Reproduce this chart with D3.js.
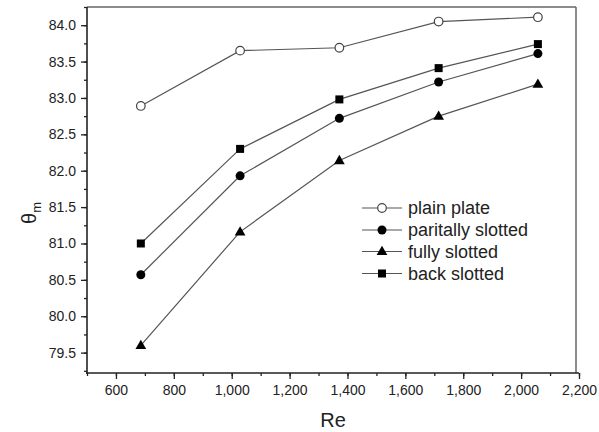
<!DOCTYPE html>
<html><head><meta charset="utf-8">
<script src="https://cdn.jsdelivr.net/npm/d3@7"></script>
<style>body{margin:0;background:#fff;}svg{display:block;font-family:"Liberation Sans",Arial,sans-serif;}</style>
</head><body><svg id="c" width="599" height="432"></svg>
<script>
const reValues = [686, 1029, 1372, 1715, 2058];
const plainPlate = [82.89, 83.65, 83.69, 84.05, 84.11];
const partiallySlotted = [80.57, 81.93, 82.72, 83.22, 83.61];
const fullySlotted = [79.60, 81.16, 82.14, 82.75, 83.19];
const backSlotted = [81.00, 82.30, 82.98, 83.41, 83.74];
const seriesNames = ["plain plate", "paritally slotted", "fully slotted", "back slotted"];
const xTicks = [600, 800, 1000, 1200, 1400, 1600, 1800, 2000, 2200];
const yTicks = [79.5, 80.0, 80.5, 81.0, 81.5, 82.0, 82.5, 83.0, 83.5, 84.0];

const svg = d3.select("#c");
const L = 87, R = 579, T = 7, B = 373;
const x = d3.scaleLinear().domain([500, 2200]).range([L, R]);
const y = d3.scaleLinear().domain([79.22, 84.25]).range([B, T]);

// frame
svg.append("line").attr("x1", L).attr("x2", 576).attr("y1", T).attr("y2", T).attr("stroke", "#666").attr("stroke-width", 1.5);
svg.append("line").attr("x1", 576).attr("x2", 576).attr("y1", T).attr("y2", B).attr("stroke", "#666").attr("stroke-width", 1.5);

// x axis
const xMinor = d3.range(500, 2201, 100);
const gx = svg.append("g").attr("transform", `translate(0,${B})`);
gx.call(d3.axisBottom(x).tickValues(xMinor).tickSize(3).tickFormat(""))
  .call(g => g.select(".domain").remove());
gx.call(g => g.selectAll(".tick line").attr("stroke", "#222").attr("stroke-width", 1.3));
const gx2 = svg.append("g").attr("transform", `translate(0,${B})`)
  .call(d3.axisBottom(x).tickValues(xTicks).tickSize(6).tickPadding(6).tickFormat(d3.format(",")));
gx2.select(".domain").remove();
gx2.selectAll(".tick line").attr("stroke", "#222").attr("stroke-width", 1.3);
gx2.selectAll(".tick text").attr("font-size", 14).attr("fill", "#222").attr("font-family", "Liberation Sans, Arial, sans-serif");
svg.append("line").attr("x1", L - 1).attr("x2", R).attr("y1", B).attr("y2", B).attr("stroke", "#222").attr("stroke-width", 1.6);

// y axis
const yMinor = d3.range(79.25, 84.26, 0.25);
const gy = svg.append("g").attr("transform", `translate(${L},0)`)
  .call(d3.axisLeft(y).tickValues(yMinor).tickSize(3).tickFormat(""));
gy.select(".domain").remove();
gy.selectAll(".tick line").attr("stroke", "#222").attr("stroke-width", 1.3);
const gy2 = svg.append("g").attr("transform", `translate(${L},0)`)
  .call(d3.axisLeft(y).tickValues(yTicks).tickSize(6).tickPadding(5).tickFormat(d3.format(".1f")));
gy2.select(".domain").remove();
gy2.selectAll(".tick line").attr("stroke", "#222").attr("stroke-width", 1.3);
gy2.selectAll(".tick text").attr("font-size", 14).attr("fill", "#222").attr("font-family", "Liberation Sans, Arial, sans-serif");
svg.append("line").attr("x1", L).attr("x2", L).attr("y1", T).attr("y2", B + 1).attr("stroke", "#222").attr("stroke-width", 1.6);

// titles
svg.append("text").attr("x", 333).attr("y", 427).attr("text-anchor", "middle").attr("font-size", 20).attr("fill", "#222").text("Re");
const yt = svg.append("text").attr("transform", "translate(36,213) rotate(-90)").attr("text-anchor", "middle").attr("font-size", 20).attr("fill", "#222");
yt.append("tspan").text("θ");
yt.append("tspan").attr("font-size", 13).attr("dy", 5).text("m");

const data = [plainPlate, partiallySlotted, fullySlotted, backSlotted];
const symbols = ["circleOpen", "circle", "triangle", "square"];
const line = d3.line().x((d, i) => x(reValues[i])).y(d => y(d));

function marker(g, type, cx, cy) {
  if (type === "circleOpen") g.append("circle").attr("cx", cx).attr("cy", cy).attr("r", 4.3).attr("fill", "#fff").attr("stroke", "#444").attr("stroke-width", 1.2);
  else if (type === "circle") g.append("circle").attr("cx", cx).attr("cy", cy).attr("r", 4.5).attr("fill", "#000");
  else if (type === "triangle") g.append("path").attr("d", d3.symbol(d3.symbolTriangle, 50)()).attr("transform", `translate(${cx},${cy + 0.5})`).attr("fill", "#000");
  else g.append("rect").attr("x", cx - 4).attr("y", cy - 4).attr("width", 8).attr("height", 8).attr("fill", "#000");
}

data.forEach((vals, k) => {
  svg.append("path").datum(vals).attr("d", line).attr("fill", "none").attr("stroke", "#555").attr("stroke-width", 1.2);
  const g = svg.append("g");
  vals.forEach((v, i) => marker(g, symbols[k], x(reValues[i]), y(v)));
});

// legend
const legY = [208, 230, 251.5, 273.5];
seriesNames.forEach((name, k) => {
  const g = svg.append("g");
  g.append("line").attr("x1", 362).attr("x2", 402).attr("y1", legY[k]).attr("y2", legY[k]).attr("stroke", "#555").attr("stroke-width", 1.2);
  marker(g, symbols[k], 382, legY[k]);
  g.append("text").attr("x", 408).attr("y", legY[k] + 6).attr("font-size", 18).attr("fill", "#222").text(name);
});
</script></body></html>
